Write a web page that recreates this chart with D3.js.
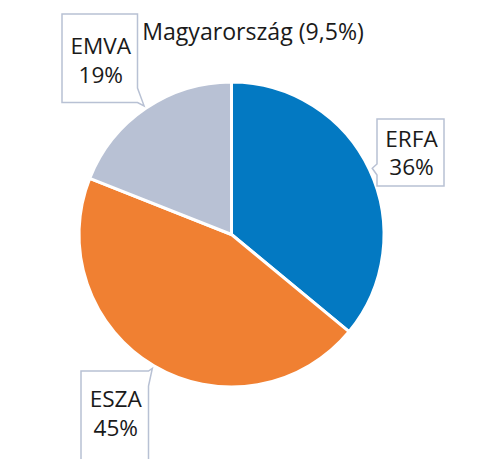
<!DOCTYPE html>
<html>
<head>
<meta charset="utf-8">
<script src="https://cdn.jsdelivr.net/npm/d3@7"></script>
<style>
  html, body { margin: 0; padding: 0; background: #ffffff; }
  svg { display: block; }
  text { font-family: "Open Sans", "Noto Sans", sans-serif; fill: #1a1a1a; }
</style>
</head>
<body>
<svg id="chart" width="487" height="459"></svg>
<script>
// ---- data ----
const title = "Magyarország (9,5%)";
const categories = ["ERFA", "ESZA", "EMVA"];
const values = [36, 45, 19];
const percentLabels = ["36%", "45%", "19%"];
const colors = ["#0379C2", "#F08032", "#B8C1D4"];

// ---- layout ----
const W = 487, H = 459;
const cx = 231.5, cy = 234.5, R = 152.5;
const fontSize = 23.1;
const labelSize = 22.6;
const lineGap = 28.5;

const svg = d3.select("#chart");

svg.append("text")
  .attr("x", 253).attr("y", 39.5)
  .attr("text-anchor", "middle")
  .attr("font-size", fontSize)
  .text(title);

const pie = d3.pie().sort(null).value(d => d)(values);
const arc = d3.arc().innerRadius(0).outerRadius(R);
const tipArc = d3.arc().innerRadius(R * 1.02).outerRadius(R * 1.02);

const g = svg.append("g").attr("transform", `translate(${cx},${cy})`);
g.selectAll("path.slice")
  .data(pie)
  .enter().append("path")
  .attr("class", "slice")
  .attr("d", arc)
  .attr("fill", (d, i) => colors[i])
  .attr("stroke", "#ffffff")
  .attr("stroke-width", 3)
  .attr("stroke-linejoin", "round");

// callout boxes: box rect + tail base points on box edge
const boxes = [
  { x0: 377, y0: 119, x1: 444, y1: 186, side: "left",  a: 164, b: 175 },   // ERFA
  { x0: 81,  y0: 371, x1: 148.5, y1: 475, side: "right", a: 371, b: 386 }, // ESZA
  { x0: 62,  y0: 14,  x1: 137.5, y1: 102.5, side: "right", a: 88, b: 102.5 } // EMVA
];

pie.forEach((d, i) => {
  const b = boxes[i];
  const c = tipArc.centroid(d);
  const tip = [cx + c[0], cy + c[1]];
  let pts;
  if (b.side === "left") {
    pts = [[b.x0, b.y0], [b.x1, b.y0], [b.x1, b.y1], [b.x0, b.y1],
           [b.x0, b.b], tip, [b.x0, b.a]];
  } else {
    pts = [[b.x0, b.y0], [b.x1, b.y0], [b.x1, b.a], tip, [b.x1, b.b],
           [b.x1, b.y1], [b.x0, b.y1]];
  }
  svg.append("path")
    .attr("d", d3.line()(pts) + "Z")
    .attr("fill", "#ffffff")
    .attr("stroke", "#B8C1D4")
    .attr("stroke-width", 1.5)
    .attr("stroke-linejoin", "miter");

  const mx = (b.x0 + b.x1) / 2;
  const baseY = [146.5, 407, 54][i];
  const t = svg.append("text")
    .attr("x", mx + 1)
    .attr("y", baseY)
    .attr("text-anchor", "middle")
    .attr("font-size", labelSize);
  t.append("tspan").attr("x", mx + 1).attr("y", baseY).text(categories[i]);
  t.append("tspan").attr("x", mx + 1).attr("y", baseY + lineGap).text(percentLabels[i]);
});
</script>
</body>
</html>
